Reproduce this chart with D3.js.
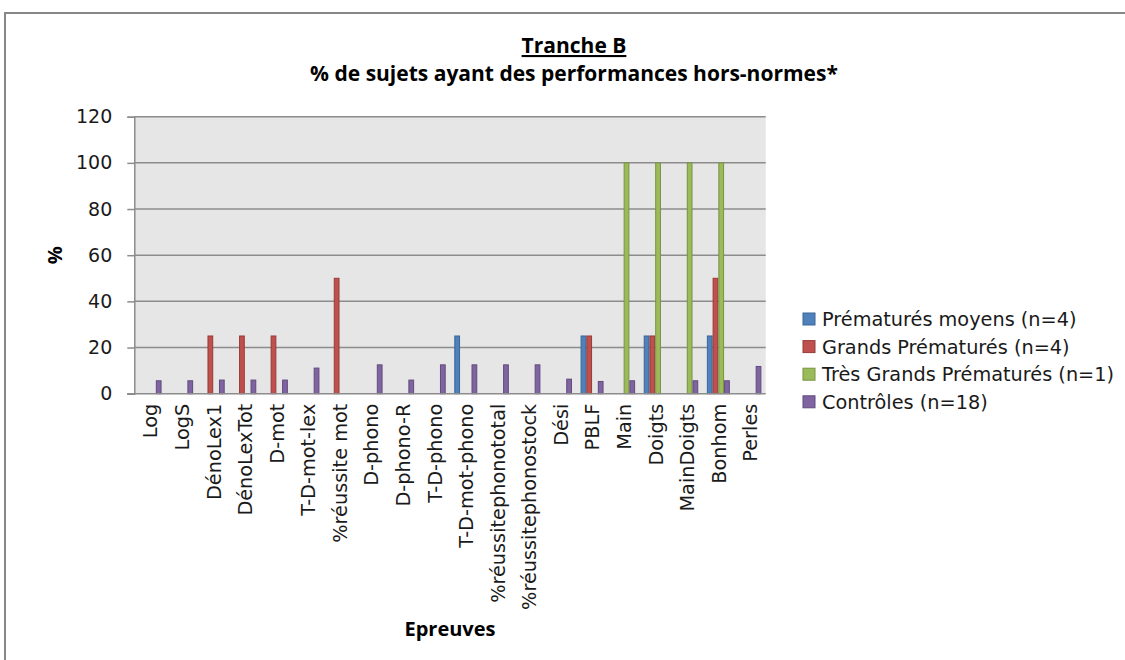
<!DOCTYPE html>
<html>
<head>
<meta charset="utf-8">
<script src="https://cdn.jsdelivr.net/npm/d3@7"></script>
<style>
  body { margin: 0; background: #fff; }
  svg { display: block; }
</style>
</head>
<body>
<div id="chart"></div>
<script>
// data
var epreuves = ["Log", "LogS", "DénoLex1", "DénoLexTot", "D-mot", "T-D-mot-lex", "%réussite mot",
  "D-phono", "D-phono-R", "T-D-phono", "T-D-mot-phono", "%réussitephonototal", "%réussitephonostock",
  "Dési", "PBLF", "Main", "Doigts", "MainDoigts", "Bonhom", "Perles"];
var seriesNames = ["Prématurés moyens (n=4)", "Grands Prématurés (n=4)", "Très Grands Prématurés (n=1)", "Contrôles (n=18)"];
var premMoyens   = [0, 0, 0, 0, 0, 0, 0, 0, 0, 0, 25, 0, 0, 0, 25, 0, 25, 0, 25, 0];
var grandsPrem   = [0, 0, 25, 25, 25, 0, 50, 0, 0, 0, 0, 0, 0, 0, 25, 0, 25, 0, 50, 0];
var tresGrands   = [0, 0, 0, 0, 0, 0, 0, 0, 0, 0, 0, 0, 0, 0, 0, 100, 100, 100, 100, 0];
var controles    = [5.6, 5.6, 5.9, 5.9, 5.9, 11.1, 0, 12.5, 5.9, 12.5, 12.5, 12.5, 12.5, 6.3, 5.3, 5.6, 0, 5.6, 5.6, 11.8];
var yTicks = [0, 20, 40, 60, 80, 100, 120];

var fills   = ["#4F81BD", "#C0504D", "#9BBB59", "#8064A2"];
var strokes = ["#3A6496", "#953B39", "#779244", "#5F4B7C"];
var allSeries = [premMoyens, grandsPrem, tresGrands, controles];

var width = 1125, height = 660;
var plotLeft = 134.3, plotRight = 765.7, plotTop = 116.7, plotBottom = 393.7;

var svg = d3.select("#chart").append("svg")
  .attr("width", width)
  .attr("height", height);

svg.append("rect")
  .attr("x", 5).attr("y", 13)
  .attr("width", 1130).attr("height", 670)
  .attr("fill", "#fff")
  .attr("stroke", "#878787")
  .attr("stroke-width", 2);

// plot background
svg.append("rect")
  .attr("x", plotLeft).attr("y", plotTop)
  .attr("width", plotRight - plotLeft).attr("height", plotBottom - plotTop)
  .attr("fill", "#E6E6E6");

var x0 = d3.scaleBand().domain(epreuves).range([plotLeft, plotRight])
  .paddingInner(1.5 / 5.5).paddingOuter(0.75 / 5.5);
var x1 = d3.scaleBand().domain(d3.range(4)).range([0, x0.bandwidth()]);
var y = d3.scaleLinear().domain([0, 120]).range([plotBottom, plotTop]);

// gridlines
svg.append("g").selectAll("line")
  .data(yTicks.slice(1))
  .join("line")
  .attr("x1", plotLeft).attr("x2", plotRight)
  .attr("y1", function(d) { return y(d); })
  .attr("y2", function(d) { return y(d); })
  .attr("stroke", "#8C8C8C")
  .attr("stroke-width", 1.5);

// y axis
var yAxis = svg.append("g")
  .attr("transform", "translate(" + plotLeft + ",0)")
  .call(d3.axisLeft(y).tickValues(yTicks).tickSize(7).tickPadding(15));
yAxis.select(".domain").attr("stroke", "#8C8C8C").attr("stroke-width", 1.5);
yAxis.selectAll(".tick line").attr("stroke", "#8C8C8C").attr("stroke-width", 1.5);
yAxis.selectAll("text")
  .attr("font-family", "DejaVu Sans, sans-serif")
  .attr("font-size", 19)
  .attr("fill", "#1a1a1a");

// bars
var groups = svg.append("g").selectAll("g")
  .data(epreuves)
  .join("g")
  .attr("transform", function(d) { return "translate(" + x0(d) + ",0)"; });

groups.selectAll("rect")
  .data(function(d, i) {
    return allSeries.map(function(s, k) { return { k: k, v: s[i] }; })
      .filter(function(e) { return e.v > 0; });
  })
  .join("rect")
  .attr("x", function(d) { return x1(d.k) + 0.5; })
  .attr("width", x1.bandwidth() - 1)
  .attr("y", function(d) { return y(d.v); })
  .attr("height", function(d) { return y(0) - y(d.v); })
  .attr("fill", function(d) { return fills[d.k]; })
  .attr("stroke", function(d) { return strokes[d.k]; })
  .attr("stroke-width", 1);

// x axis
var xAxis = svg.append("g")
  .attr("transform", "translate(0," + plotBottom + ")")
  .call(d3.axisBottom(x0).tickSize(0).tickPadding(0).tickSizeOuter(0));
xAxis.select(".domain").attr("stroke", "#8C8C8C").attr("stroke-width", 1.5)
  .attr("d", "M" + (plotLeft - 7) + ",0H" + plotRight);
xAxis.selectAll("text")
  .attr("font-family", "DejaVu Sans, sans-serif")
  .attr("font-size", 19.3)
  .attr("fill", "#1a1a1a")
  .attr("text-anchor", "end")
  .attr("transform", "rotate(-90)")
  .attr("x", -10)
  .attr("y", 0)
  .attr("dy", "0.38em");

// titles
svg.append("text")
  .attr("x", 574).attr("y", 53)
  .attr("text-anchor", "middle")
  .attr("font-family", "Open Sans, sans-serif")
  .attr("font-weight", "bold")
  .attr("font-size", 21)
  .attr("text-decoration", "underline")
  .text("Tranche B");

svg.append("text")
  .attr("x", 574).attr("y", 81)
  .attr("text-anchor", "middle")
  .attr("font-family", "Open Sans, sans-serif")
  .attr("font-weight", "bold")
  .attr("font-size", 21)
  .text("% de sujets ayant des performances hors-normes*");

svg.append("text")
  .attr("transform", "translate(62," + ((plotTop + plotBottom) / 2) + ") rotate(-90)")
  .attr("text-anchor", "middle")
  .attr("font-family", "Open Sans, sans-serif")
  .attr("font-weight", "bold")
  .attr("font-size", 20)
  .text("%");

svg.append("text")
  .attr("x", (plotLeft + plotRight) / 2).attr("y", 636)
  .attr("text-anchor", "middle")
  .attr("font-family", "Open Sans, sans-serif")
  .attr("font-weight", "bold")
  .attr("font-size", 20)
  .text("Epreuves");

// legend
var legend = svg.append("g").selectAll("g")
  .data(seriesNames)
  .join("g")
  .attr("transform", function(d, i) { return "translate(803," + (313 + i * 27.6) + ")"; });

legend.append("rect")
  .attr("width", 12).attr("height", 12)
  .attr("fill", function(d, i) { return fills[i]; })
  .attr("stroke", function(d, i) { return strokes[i]; });

legend.append("text")
  .attr("x", 19).attr("y", 6)
  .attr("dy", "0.36em")
  .attr("font-family", "DejaVu Sans, sans-serif")
  .attr("font-size", 19.3)
  .attr("fill", "#1a1a1a")
  .text(function(d) { return d; });
</script>
</body>
</html>
